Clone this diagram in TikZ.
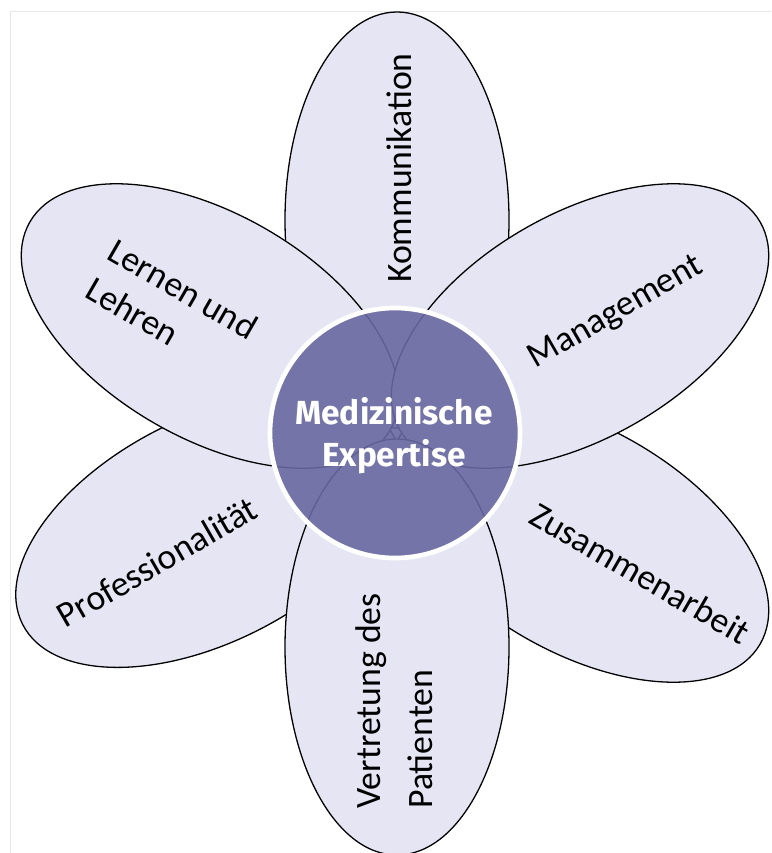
\documentclass[tikz,border=0pt]{standalone}
\usepackage{fontspec}
\setmainfont{Carlito}
\newfontfamily\centerfont{Fira Sans}
\usetikzlibrary{positioning}
\definecolor{petalfill}{RGB}{230,229,243}
\definecolor{centerfill}{RGB}{104,104,162}
\definecolor{scanline}{RGB}{232,232,232}
\tikzset{
  petal/.style={draw=black, fill=petalfill, line width=1.1pt},
  petaltext/.style={font=\fontsize{30.5}{38}\selectfont, align=left, inner sep=0pt},
  centertext/.style={font=\centerfont\bfseries\fontsize{28.5}{36}\selectfont, text=white, align=center, inner sep=0pt}
}

\begin{document}
\begin{tikzpicture}[x=0.03cm, y=-0.03cm]
        % Page and the faint scan border
        \fill[white] (0,0) rectangle (771,853);
        \useasboundingbox (0,0) rectangle (771,853);
        \draw[scanline, line width=0.6pt] (10,853) -- (10,11) -- (771,11);
        % Petals behind (Kommunikation, Professionalitaet, Zusammenarbeit)
        \draw[petal] (397,220) circle [x radius=3.36cm, y radius=6.24cm];
        \draw[petal] (208,530) circle [x radius=6.24cm, y radius=3.36cm, rotate=27];
        \draw[petal] (580,540) circle [x radius=6.24cm, y radius=3.36cm, rotate=-30];
        % Petals in front (Lernen, Management, Vertretung)
        \draw[petal] (210,326) circle [x radius=6.24cm, y radius=3.36cm, rotate=-30];
        \draw[petal] (580,326) circle [x radius=6.24cm, y radius=3.36cm, rotate=30];
        \draw[petal] (397,647) circle [x radius=3.36cm, y radius=6.24cm];
        % Centre disc, slightly see-through
        \draw[draw=white, line width=4pt, fill=centerfill, fill opacity=0.9] (395,433) circle [radius=3.75cm];
        \node[centertext] (expertise) at (394,436) {Medizinische\\Expertise};
        % Petal labels
        \node[petaltext, rotate=90] (kommunikation) at (399,168) {Kommunikation};
        \node[petaltext, rotate=-30] (lernen) at (172,308) {Lernen und\\Lehren};
        \node[petaltext, rotate=30] (management) at (616,313) {Management};
        \node[petaltext, rotate=30] (professionalitaet) at (157,562) {Professionalität};
        \node[petaltext, rotate=-30] (zusammenarbeit) at (640,573) {Zusammenarbeit};
        \node[petaltext, font=\fontsize{30.5}{44}\selectfont, rotate=90] (vertretung) at (394,701) {Vertretung des\\Patienten};
\end{tikzpicture}
\end{document}
